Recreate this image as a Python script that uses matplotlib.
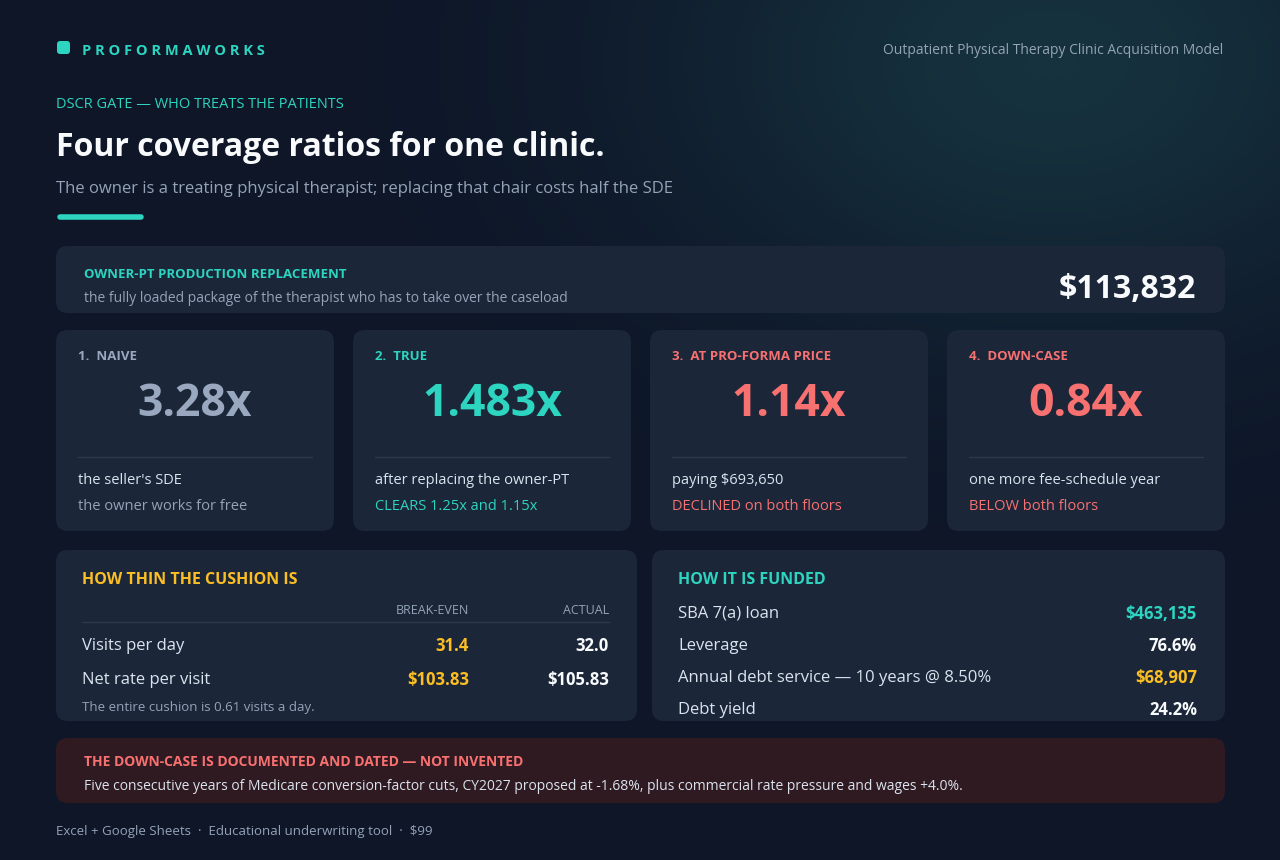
import matplotlib.pyplot as plt
from matplotlib.patches import FancyBboxPatch
from matplotlib.colors import LinearSegmentedColormap
import numpy as np

plt.rcParams['font.family'] = ['Open Sans', 'DejaVu Sans']

BG = '#0e1628'
CARD = '#1b2639'
TEAL = '#2dd4bf'
RED = '#f87171'
AMBER = '#fbbf24'
GRAY = '#94a3b8'
WHITE = '#f8fafc'
LIGHT = '#dbe3ee'

brand = "PROFORMAWORKS"
model_name = "Outpatient Physical Therapy Clinic Acquisition Model"
kicker = "DSCR GATE — WHO TREATS THE PATIENTS"
title = "Four coverage ratios for one clinic."
subtitle = "The owner is a treating physical therapist; replacing that chair costs half the SDE"

repl_label = "OWNER-PT PRODUCTION REPLACEMENT"
repl_sub = "the fully loaded package of the therapist who has to take over the caseload"
repl_value = 113832

ratio_names = ["NAIVE", "TRUE", "AT PRO-FORMA PRICE", "DOWN-CASE"]
ratio_values = ["3.28x", "1.483x", "1.14x", "0.84x"]
ratio_line1 = ["the seller's SDE", "after replacing the owner-PT", "paying $693,650",
               "one more fee-schedule year"]
ratio_line2 = ["the owner works for free", "CLEARS 1.25x and 1.15x",
               "DECLINED on both floors", "BELOW both floors"]
ratio_colors = ['#9aa8bf', TEAL, RED, RED]

cushion_rows = ["Visits per day", "Net rate per visit"]
cushion_breakeven = ["31.4", "$103.83"]
cushion_actual = ["32.0", "$105.83"]
cushion_note = "The entire cushion is 0.61 visits a day."

fund_labels = ["SBA 7(a) loan", "Leverage", "Annual debt service — 10 years @ 8.50%", "Debt yield"]
fund_values = ["$463,135", "76.6%", "$68,907", "24.2%"]
fund_colors = [TEAL, WHITE, AMBER, WHITE]

warn_title = "THE DOWN-CASE IS DOCUMENTED AND DATED — NOT INVENTED"
warn_text = ("Five consecutive years of Medicare conversion-factor cuts, CY2027 proposed at -1.68%, "
             "plus commercial rate pressure and wages +4.0%.")
footer = ["Excel + Google Sheets", "Educational underwriting tool", "$99"]

fig = plt.figure(figsize=(12.8, 8.6), dpi=100)
fig.patch.set_facecolor(BG)
ax = fig.add_axes([0, 0, 1, 1])

# soft glow top right
yy, xx = np.mgrid[0:860:4, 0:1280:4]
glow = np.exp(-(((xx - 1050) / 380) ** 2 + ((yy - 60) / 260) ** 2))
cm = LinearSegmentedColormap.from_list('g', [BG, '#16323e'])
ax.imshow(glow, extent=[0, 1280, 860, 0], cmap=cm, zorder=0, aspect='auto')
ax.set_xlim(0, 1280)
ax.set_ylim(860, 0)
ax.axis('off')


def card(x, y, w, h, color=CARD):
    ax.add_patch(FancyBboxPatch((x, y), w, h, boxstyle="round,pad=0,rounding_size=12",
                                fc=color, ec='none', zorder=1))


def t(x, y, s, size, color, weight='normal', ha='left', va='center'):
    ax.text(x, y, s, fontsize=size, color=color, fontweight=weight, ha=ha, va=va, zorder=3)


# header
ax.add_patch(FancyBboxPatch((57, 41), 13, 13, boxstyle="round,pad=0,rounding_size=3",
                            fc=TEAL, ec='none', zorder=2))
t(82, 51, " ".join(brand), 10.5, TEAL, 'bold')
t(1223, 50, model_name, 10, GRAY, ha='right')
t(56, 105, kicker, 10.5, TEAL)
t(56, 147, title, 23, WHITE, 'bold')
t(56, 189, subtitle, 12, GRAY)
ax.plot([60, 141], [217, 217], color=TEAL, lw=4, solid_capstyle='round', zorder=3)

# replacement card
card(56, 246, 1169, 67)
t(84, 274, repl_label, 9.5, TEAL, 'bold')
t(84, 298, repl_sub, 10, GRAY)
t(1196, 289, f"${repl_value:,}", 23, WHITE, 'bold', ha='right')

# ratio cards
for i in range(4):
    x0 = 56 + i * 297
    card(x0, 330, 278, 201)
    t(x0 + 22, 357, f"{i + 1}.  {ratio_names[i]}", 9.5, ratio_colors[i], 'bold')
    t(x0 + 139, 405, ratio_values[i], 32, ratio_colors[i], 'bold', ha='center')
    ax.plot([x0 + 22, x0 + 256], [457, 457], color='#2c384c', lw=1, zorder=2)
    t(x0 + 22, 481, ratio_line1[i], 10.5, LIGHT)
    t(x0 + 22, 507, ratio_line2[i], 10.5, GRAY if i == 0 else ratio_colors[i])

# cushion card
card(56, 550, 581, 171)
t(82, 580, "HOW THIN THE CUSHION IS", 11.5, AMBER, 'bold')
t(469, 610, "BREAK-EVEN", 9, GRAY, ha='right')
t(609, 610, "ACTUAL", 9, GRAY, ha='right')
ax.plot([82, 609], [622, 622], color='#2c384c', lw=1, zorder=2)
for j, row in enumerate(cushion_rows):
    y = 646 + j * 34
    t(82, y, row, 12, LIGHT)
    t(469, y, cushion_breakeven[j], 12, AMBER, 'bold', ha='right')
    t(609, y, cushion_actual[j], 12, WHITE, 'bold', ha='right')
t(82, 707, cushion_note, 9.5, GRAY)

# funding card
card(652, 550, 573, 171)
t(678, 580, "HOW IT IS FUNDED", 11.5, TEAL, 'bold')
for j, lab in enumerate(fund_labels):
    y = 614 + j * 32
    t(678, y, lab, 12, LIGHT)
    t(1197, y, fund_values[j], 12, fund_colors[j], 'bold', ha='right')

# warning
card(56, 738, 1169, 65, '#2f1a21')
t(84, 762, warn_title, 10, RED, 'bold')
t(84, 786, warn_text, 10, LIGHT)

t(56, 832, "  ·  ".join(footer), 9.5, GRAY)

fig.savefig("out.png", dpi=100, facecolor=BG)
